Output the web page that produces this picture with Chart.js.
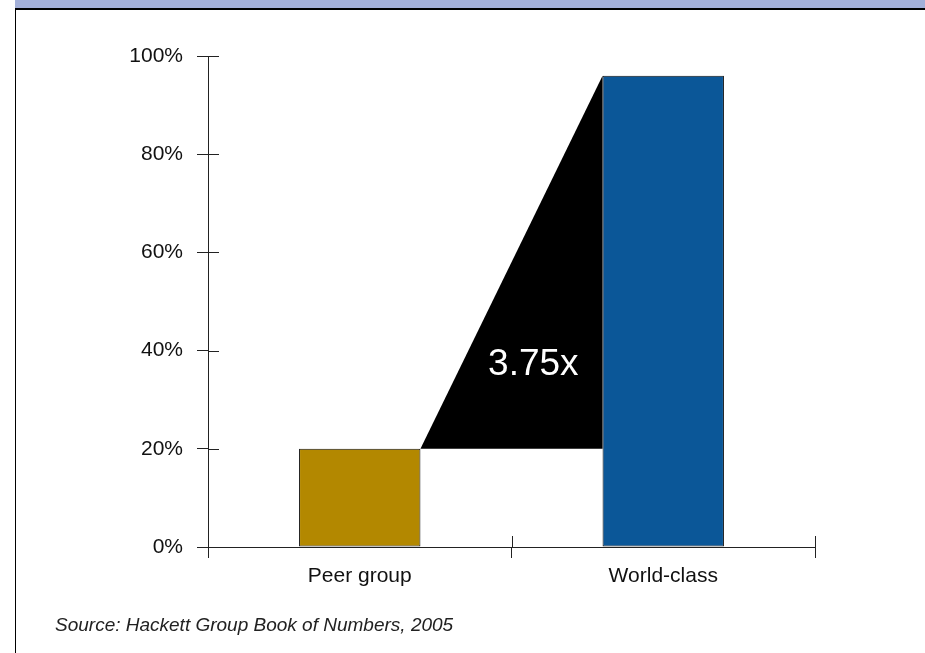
<!DOCTYPE html>
<html>
<head>
<meta charset="utf-8">
<script src="https://cdn.jsdelivr.net/npm/chart.js@4.4.1/dist/chart.umd.min.js"></script>
<style>
    html, body { margin: 0; padding: 0; background: #fff; }
    body { width: 925px; height: 653px; position: relative; overflow: hidden; font-family: "Liberation Sans", Arial, sans-serif; }
    #band { position: absolute; left: 15px; top: 0; width: 910px; height: 8px; background: #a3b0d9; }
    #frame { position: absolute; left: 15px; top: 8px; width: 910px; height: 645px; border-top: 2px solid #000; border-left: 1px solid #000; box-sizing: border-box; }
    #chart { position: absolute; left: 0; top: 0; }
    #source { position: absolute; left: 55px; top: 614px; font-size: 19px; font-style: italic; color: #222; }
</style>
</head>
<body>
<div id="band"></div>
<div id="frame"></div>
<canvas id="chart" width="925" height="653"></canvas>
<div id="source">Source: Hackett Group Book of Numbers, 2005</div>
<script>
    // 数据
    const categories = ['Peer group', 'World-class'];
    const values = [20, 96];
    const barColors = ['#b38800', '#0b5798'];
    const yTicks = [0, 20, 40, 60, 80, 100];
    const gapLabel = '3.75x';

    // 黑色三角形 + 倍数标签
    const gapPlugin = {
        id: 'gap',
        beforeDatasetsDraw(chart) {
            const bars = chart.getDatasetMeta(0).data;
            if (bars.length < 2) return;
            const a = bars[0], b = bars[1];
            const x1 = a.x + a.width / 2;
            const x2 = b.x - b.width / 2;
            const ctx = chart.ctx;
            ctx.save();
            ctx.beginPath();
            ctx.moveTo(x1, a.y);
            ctx.lineTo(x2, b.y);
            ctx.lineTo(x2, a.y);
            ctx.closePath();
            ctx.fillStyle = '#000';
            ctx.fill();
            ctx.fillStyle = '#fff';
            ctx.font = '37px "Liberation Sans", Arial, sans-serif';
            ctx.textAlign = 'center';
            ctx.textBaseline = 'middle';
            ctx.fillText(gapLabel, x1 + (x2 - x1) * 0.62, b.y + (a.y - b.y) * 0.775);
            ctx.restore();
        }
    };

    // 刻度线穿过坐标轴（内侧一半）
    const crossTicks = {
        id: 'crossTicks',
        afterDraw(chart) {
            const ctx = chart.ctx;
            const xs = chart.scales.x, ys = chart.scales.y;
            const area = chart.chartArea;
            ctx.save();
            ctx.strokeStyle = '#222';
            ctx.lineWidth = 1;
            ctx.beginPath();
            yTicks.forEach(v => {
                const y = Math.round(ys.getPixelForValue(v)) + 0.5;
                ctx.moveTo(area.left, y);
                ctx.lineTo(area.left + 11, y);
            });
            for (let i = 0; i <= categories.length; i++) {
                const x = Math.round(xs.getPixelForValue(i - 0.5)) + 0.5;
                ctx.moveTo(x, area.bottom);
                ctx.lineTo(x, area.bottom - 11);
            }
            ctx.stroke();
            ctx.restore();
        }
    };

    const font = { family: '"Liberation Sans", Arial, sans-serif', size: 21 };

    new Chart(document.getElementById('chart'), {
        type: 'bar',
        data: {
            labels: categories,
            datasets: [{
                data: values,
                backgroundColor: barColors,
                borderColor: '#111',
                borderWidth: 1,
                borderSkipped: false,
                barPercentage: 1,
                categoryPercentage: 0.4
            }]
        },
        options: {
            responsive: false,
            animation: false,
            layout: { padding: { top: 56, right: 110, bottom: 0, left: 0 } },
            plugins: {
                legend: { display: false },
                tooltip: { enabled: false }
            },
            scales: {
                x: {
                    offset: true,
                    grid: { offset: true, drawOnChartArea: false, tickLength: 11, color: '#222' },
                    border: { color: '#222', width: 1 },
                    ticks: { color: '#111', font: font, padding: 6 },
                    afterFit(scale) { scale.height = 106; }
                },
                y: {
                    min: 0,
                    max: 100,
                    afterBuildTicks(scale) { scale.ticks = yTicks.map(v => ({ value: v })); },
                    grid: { drawOnChartArea: false, tickLength: 11, color: '#222' },
                    border: { color: '#222', width: 1 },
                    ticks: { color: '#111', font: font, padding: 14, callback: v => v + '%' },
                    afterFit(scale) { scale.width = 208; }
                }
            }
        },
        plugins: [gapPlugin, crossTicks]
    });
</script>
</body>
</html>
